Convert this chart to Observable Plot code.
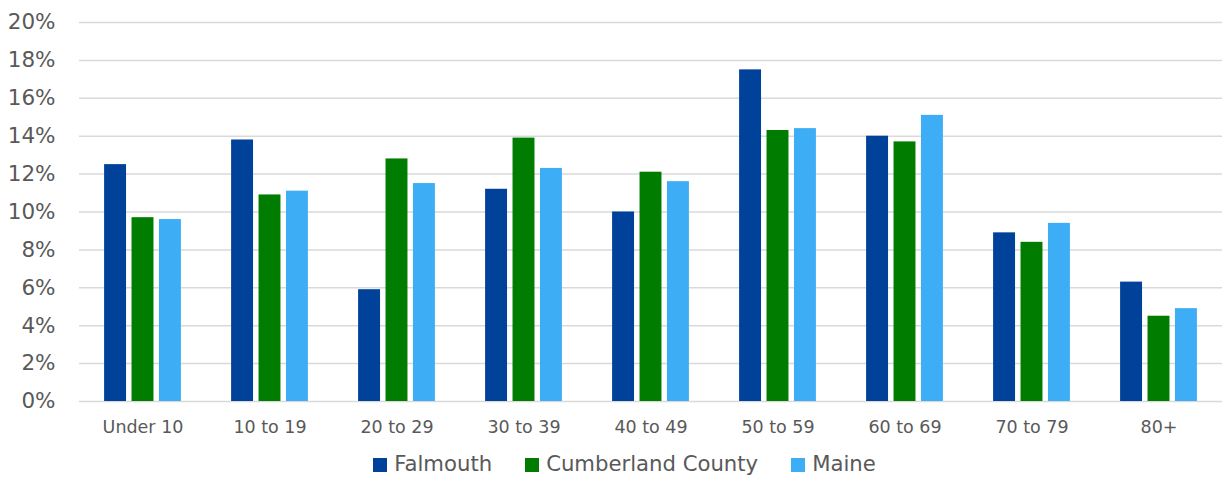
<!DOCTYPE html>
<html>
<head>
<meta charset="utf-8">
<script src="https://cdn.jsdelivr.net/npm/d3@7"></script>
<script src="https://cdn.jsdelivr.net/npm/@observablehq/plot@0.6"></script>
<style>
  body { margin: 0; background: #fff; font-family: "DejaVu Sans", sans-serif; }
  #chart svg { display: block; }
  #chart g[aria-label^="y-axis"] text { font-size: 21.5px; fill: #595959; }
  #chart g[aria-label^="fx-axis"] text { font-size: 17.5px; fill: #595959; }
  .legend { display: flex; justify-content: center; align-items: center; gap: 33px; margin-top: 6px; height: 24px;
            font-size: 21.2px; color: #595959; padding-left: 24px; }
  .legend .item { display: flex; align-items: center; gap: 7px; }
  .legend .sw { width: 14px; height: 14px; display: inline-block; margin-top: 4px; }
</style>
</head>
<body>
<div id="chart"></div>
<script>
const ages = ["Under 10", "10 to 19", "20 to 29", "30 to 39", "40 to 49", "50 to 59", "60 to 69", "70 to 79", "80+"];
const falmouth   = [12.5, 13.8, 5.9, 11.2, 10.0, 17.5, 14.0, 8.9, 6.3];
const cumberland = [9.7, 10.9, 12.8, 13.9, 12.1, 14.3, 13.7, 8.4, 4.5];
const maine      = [9.6, 11.1, 11.5, 12.3, 11.6, 14.4, 15.1, 9.4, 4.9];
const series = ["Falmouth", "Cumberland County", "Maine"];
const colors = ["#00429A", "#007D00", "#3DADF5"];
const yTicks = [0, 2, 4, 6, 8, 10, 12, 14, 16, 18, 20];

const valuesBySeries = [falmouth, cumberland, maine];
const data = ages.flatMap((a, i) => series.map((s, j) => ({age: a, series: s, value: valuesBySeries[j][i]})));

const chart = Plot.plot({
  width: 1225,
  height: 445,
  marginLeft: 79,
  marginRight: 3,
  marginTop: 22,
  marginBottom: 44,
  style: {fontFamily: "'DejaVu Sans', sans-serif", color: "#595959", background: "#fff", overflow: "visible"},
  fx: {domain: ages, padding: 0, round: false, label: null, axis: "bottom", tickSize: 0, tickPadding: 19},
  x: {domain: series, paddingInner: 0.2, paddingOuter: 0.915, round: false, axis: null},
  y: {domain: [0, 20], ticks: yTicks, tickFormat: d => d + "%", tickSize: 0, tickPadding: 24, label: null},
  color: {domain: series, range: colors},
  marks: [
    Plot.ruleY(yTicks, {stroke: "#d9d9d9", strokeWidth: 1.5}),
    Plot.barY(data, {fx: "age", x: "series", y: "value", fill: "series"})
  ]
});
document.getElementById("chart").appendChild(chart);

const legend = d3.select("body").append("div").attr("class", "legend");
series.forEach((s, i) => {
  const it = legend.append("div").attr("class", "item");
  it.append("span").attr("class", "sw").style("background", colors[i]);
  it.append("span").text(s);
});
</script>
</body>
</html>
